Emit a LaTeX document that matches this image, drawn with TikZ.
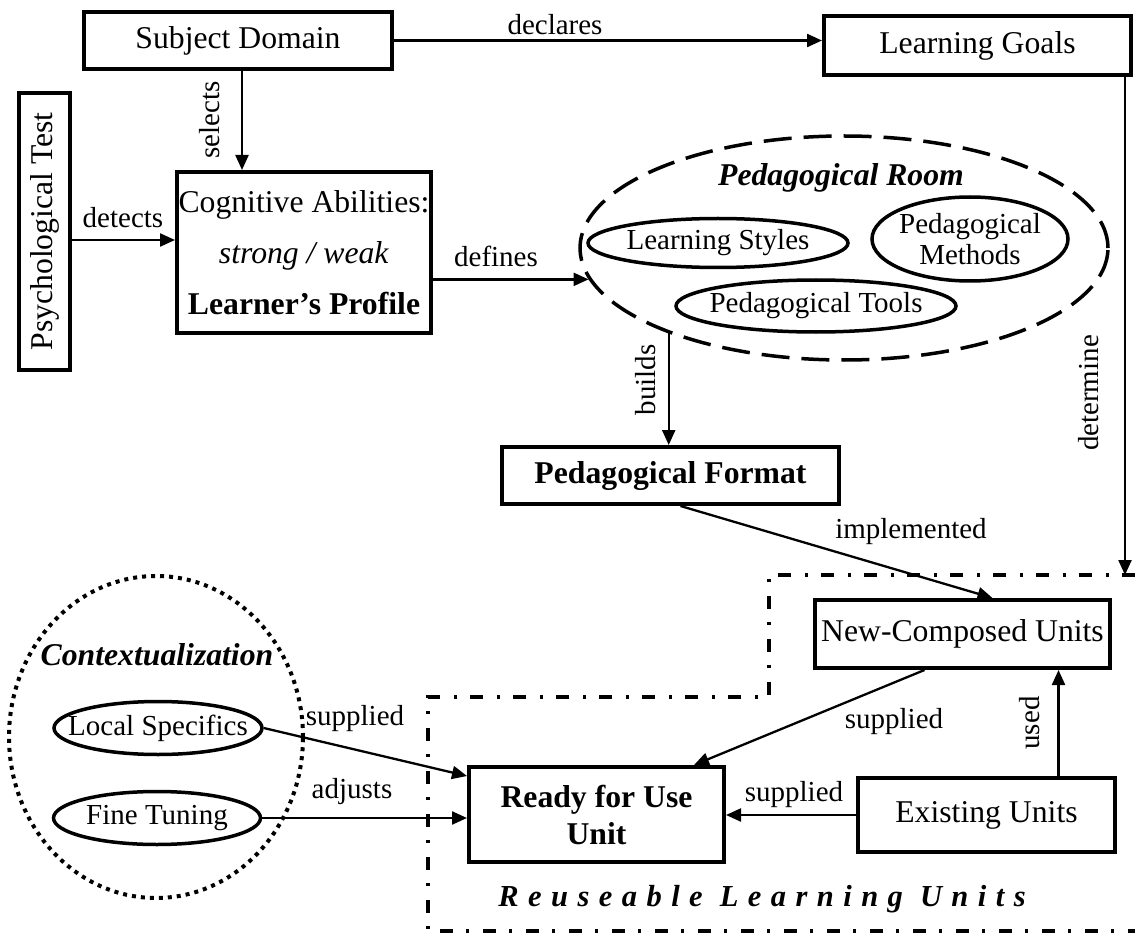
\documentclass[tikz,border=0pt]{standalone}
\usepackage{fontspec}
\usepackage{graphicx}
\setmainfont{Liberation Serif}
\usetikzlibrary{shapes.geometric,arrows.meta,calc}
\newcommand\nodefont{\fontsize{31.7}{36}\selectfont}
\newcommand\labfont{\fontsize{29}{33}\selectfont}
\begin{document}
\begin{tikzpicture}[x=1pt,y=-1pt,
  box/.style={draw,line width=4pt,inner sep=0pt,align=center,font=\nodefont},
  oval/.style={draw,ellipse,line width=3.5pt,inner sep=0pt},
  ovaltext/.style={font=\labfont,align=center,inner sep=0pt},
  arr/.style={line width=2.3pt,-{Triangle[length=15pt,width=13pt]}},
  lab/.style={font=\labfont,inner sep=0pt},
  region/.style={line width=4pt,dash pattern=on 13pt off 13pt on 3pt off 14pt},
  titlefont/.style={font=\nodefont\bfseries\itshape,inner sep=0pt}]
\useasboundingbox (0,0) rectangle (1135,933);

% boxes
\node[box,minimum width=308,minimum height=57] (sd) at (238,40.5) {Subject Domain};
\node[box,minimum width=307,minimum height=59] (lg) at (977.5,45.5) {Learning Goals};
\node[box,minimum width=51,minimum height=277] (psych) at (44.5,231.5) {\rotatebox{90}{Psychological Test}};
\node[box,minimum width=254,minimum height=161,font=\fontsize{31.7}{51}\selectfont] (lp) at (304,252.5)
  {Cognitive Abilities:\\\textit{strong / weak}\\\textbf{Learner’s Profile}};
\node[box,minimum width=337,minimum height=57,font=\nodefont\bfseries] (pf) at (670.5,475.5) {Pedagogical Format};
\node[box,minimum width=295,minimum height=68] (nc) at (962.5,634) {New-Composed Units};
\node[box,minimum width=255,minimum height=95,font=\fontsize{31.7}{37}\selectfont\bfseries] (ready) at (596.5,814.5) {Ready for Use\\Unit};
\node[box,minimum width=257,minimum height=74] (ex) at (986.5,815) {Existing Units};

% pedagogical room
\node[draw,ellipse,inner sep=0pt,line width=3.5pt,dash pattern=on 28pt off 12pt,
  minimum width=528,minimum height=224] (room) at (844,248) {};
\node[titlefont] (roomt) at (841,178) {Pedagogical Room};
\node[oval,minimum width=260,minimum height=49,label={[ovaltext]center:Learning Styles}] (ls) at (718,243) {};
\node[oval,minimum width=196,minimum height=84,
  label={[ovaltext,font=\fontsize{29}{31}\selectfont]center:{Pedagogical\\Methods}}] (pm) at (970,239) {};
\node[oval,minimum width=280,minimum height=52,label={[ovaltext]center:Pedagogical Tools}] (pt) at (816,306) {};

% contextualization
\node[draw,ellipse,inner sep=0pt,line width=4pt,dash pattern=on 4pt off 5pt,
  minimum width=294,minimum height=322] (ctx) at (156,737) {};
\node[titlefont] (ctxt) at (157,655) {Contextualization};
\node[oval,minimum width=208,minimum height=53,label={[ovaltext]center:Local Specifics}] (lsp) at (158,728) {};
\node[oval,minimum width=207,minimum height=53,label={[ovaltext]center:Fine Tuning}] (ft) at (157,818) {};

% reusable region
\coordinate (r1) at (1135,575);
\coordinate (r2) at (769,575);
\coordinate (r3) at (769,697);
\coordinate (r4) at (428,697);
\coordinate (r5) at (428,931);
\coordinate (r6) at (1135,931);
\draw[region] (r1) -- (r2) -- (r3) -- (r4) -- (r5) -- (r6);
\node[inner sep=0pt,font=\fontsize{30.5}{34}\selectfont\bfseries\itshape\addfontfeature{LetterSpace=31}] (rlu) at (762,899) {Reuseable Learning Units};

% connectors
\draw[arr] (sd.east) -- (sd.east -| lg.west);
\draw[arr] ([xshift=4pt]sd.south) -- ([xshift=4pt]sd.south |- lp.north);
\draw[arr] ([yshift=-8.5pt]psych.east) -- ([yshift=-8.5pt]psych.east -| lp.west);
\draw[arr] (lp.east |- room.187.5) -- (room.187.5);
\draw[arr] (room.206.3) -- (room.206.3 |- pf.north);
\draw[arr] ([xshift=-8pt]lg.south east) -- ([xshift=-8pt]lg.south east |- r1);
\draw[arr] ([xshift=10pt]pf.south) -- ([xshift=30pt]nc.north);
\draw[arr] ([xshift=-38pt]nc.south) -- ([xshift=-32pt]ready.north east);
\draw[arr] (ex.west) -- (ex.west -| ready.east);
\draw[arr] ([xshift=72pt]ex.north) -- ([xshift=72pt]ex.north |- nc.south);
\draw[arr] (lsp.east) -- ([yshift=-11pt]ready.north west);
\draw[arr] (ft.east) -- (ft.east -| ready.west);

% labels
\node[lab] (l1) at (555,25) {declares};
\node[lab,rotate=90] (l2) at (210,120) {selects};
\node[lab] (l3) at (123,218) {detects};
\node[lab] (l4) at (496,256) {defines};
\node[lab,rotate=90] (l5) at (646,380) {builds};
\node[lab,rotate=90] (l6) at (1089,393) {determine};
\node[lab] (l7) at (911,532) {implemented};
\node[lab] (l8) at (894,722) {supplied};
\node[lab,rotate=90] (l9) at (1030,723) {used};
\node[lab] (l10) at (794,795) {supplied};
\node[lab] (l11) at (355,719) {supplied};
\node[lab] (l12) at (352,792) {adjusts};
\end{tikzpicture}
\end{document}
